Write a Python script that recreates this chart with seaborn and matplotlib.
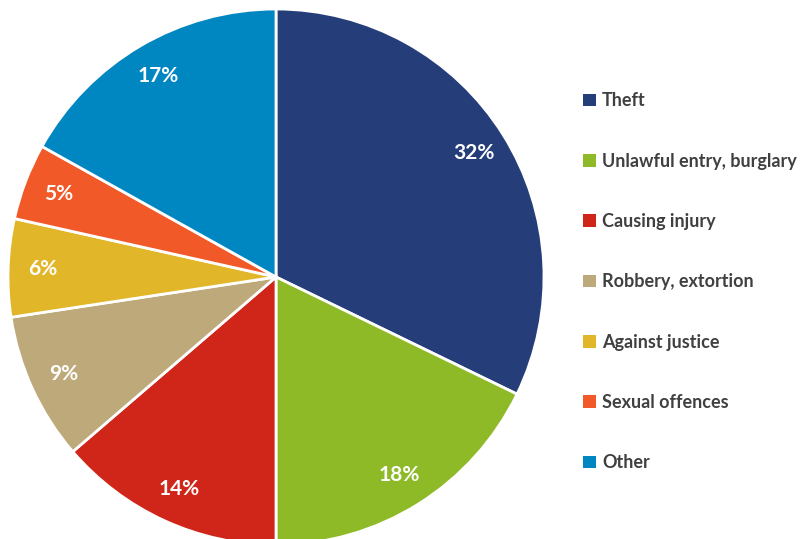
import matplotlib
matplotlib.use("Agg")
import matplotlib.pyplot as plt
import seaborn as sns
from matplotlib.patches import Patch

sns.set_theme(style="white")
plt.rcParams['font.family'] = ['Lato', 'DejaVu Sans']

# Data (shares in %, labels rounded)
categories = ['Theft', 'Unlawful entry, burglary', 'Causing injury',
              'Robbery, extortion', 'Against justice', 'Sexual offences', 'Other']
shares = [32.2, 17.8, 13.7, 8.9, 5.9, 4.6, 16.9]
colors = ['#253D78', '#8DBA26', '#D0261A', '#BEA97B', '#E2B629', '#F15A28', '#0086C1']

fig = plt.figure(figsize=(8.06, 5.39), dpi=100)
ax = fig.add_axes([8 / 806, -6 / 539, 536 / 806, 536 / 539])

wedges, texts, autotexts = ax.pie(
    shares, colors=colors, startangle=90, counterclock=False,
    autopct=lambda p: f'{p:.0f}%', pctdistance=0.87,
    wedgeprops=dict(edgecolor='white', linewidth=2),
    textprops=dict(color='white', fontsize=15, fontweight='bold'),
)
ax.set_xlim(-1, 1)
ax.set_ylim(-1, 1)
ax.set_aspect('equal')
ax.axis('off')

handles = [Patch(facecolor=c, edgecolor='none') for c in colors]
leg = fig.legend(handles, categories, loc='upper left', bbox_to_anchor=(567 / 806, 1 - 76 / 539),
                 frameon=False, labelspacing=2.4, handlelength=0.7, handleheight=0.7,
                 handletextpad=0.35, prop=dict(size=13, weight='bold'))
for t in leg.get_texts():
    t.set_color('#404040')

fig.savefig('out.png', dpi=100)
